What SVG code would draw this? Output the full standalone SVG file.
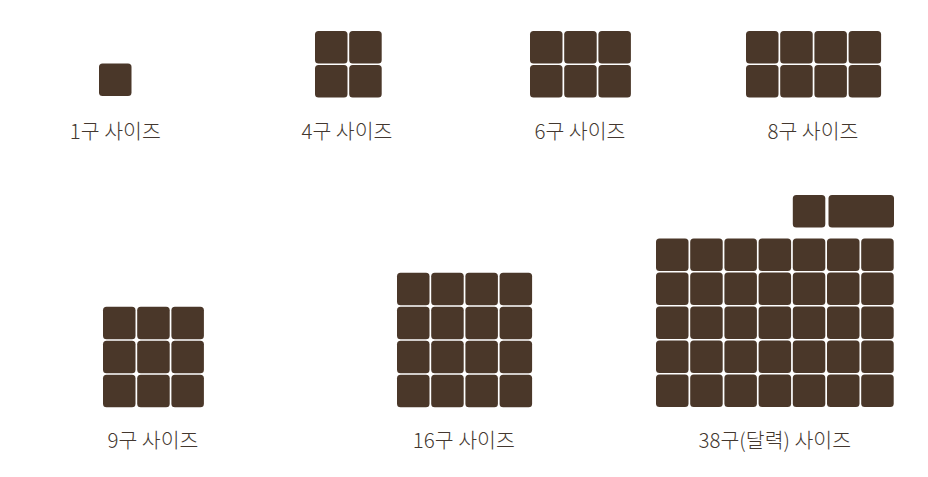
<svg xmlns="http://www.w3.org/2000/svg" width="928" height="477" viewBox="0 0 928 477">
<style>
.c{fill:#4a3729}
.t{font-family:"Noto Sans CJK KR","Noto Sans",sans-serif;font-size:20.5px;font-weight:300;fill:#43372f;text-anchor:middle}
</style>
<defs>
<rect id="cell" width="32.5" height="32.5" rx="3.5" ry="3.5"/>
</defs>
<rect width="928" height="477" fill="#ffffff"/>
<g id="size1">
<use href="#cell" class="c" x="99" y="63.5"/>
<text class="t" x="115.3" y="139">1구 사이즈</text>
</g>
<g id="size4">
<use href="#cell" class="c" x="315" y="31"/><use href="#cell" class="c" x="349.2" y="31"/>
<use href="#cell" class="c" x="315" y="65"/><use href="#cell" class="c" x="349.2" y="65"/>
<text class="t" x="347" y="139">4구 사이즈</text>
</g>
<g id="size6">
<use href="#cell" class="c" x="530" y="31"/><use href="#cell" class="c" x="564.2" y="31"/><use href="#cell" class="c" x="598.4" y="31"/>
<use href="#cell" class="c" x="530" y="65"/><use href="#cell" class="c" x="564.2" y="65"/><use href="#cell" class="c" x="598.4" y="65"/>
<text class="t" x="580" y="139">6구 사이즈</text>
</g>
<g id="size8">
<use href="#cell" class="c" x="746" y="31"/><use href="#cell" class="c" x="780.2" y="31"/><use href="#cell" class="c" x="814.4" y="31"/><use href="#cell" class="c" x="848.6" y="31"/>
<use href="#cell" class="c" x="746" y="65"/><use href="#cell" class="c" x="780.2" y="65"/><use href="#cell" class="c" x="814.4" y="65"/><use href="#cell" class="c" x="848.6" y="65"/>
<text class="t" x="813" y="139">8구 사이즈</text>
</g>
<g id="size9">
<use href="#cell" class="c" x="103" y="306.7"/><use href="#cell" class="c" x="137.2" y="306.7"/><use href="#cell" class="c" x="171.4" y="306.7"/>
<use href="#cell" class="c" x="103" y="340.7"/><use href="#cell" class="c" x="137.2" y="340.7"/><use href="#cell" class="c" x="171.4" y="340.7"/>
<use href="#cell" class="c" x="103" y="374.7"/><use href="#cell" class="c" x="137.2" y="374.7"/><use href="#cell" class="c" x="171.4" y="374.7"/>
<text class="t" x="153" y="447.5">9구 사이즈</text>
</g>
<g id="size16">
<use href="#cell" class="c" x="397" y="272.7"/><use href="#cell" class="c" x="431.2" y="272.7"/><use href="#cell" class="c" x="465.4" y="272.7"/><use href="#cell" class="c" x="499.6" y="272.7"/>
<use href="#cell" class="c" x="397" y="306.7"/><use href="#cell" class="c" x="431.2" y="306.7"/><use href="#cell" class="c" x="465.4" y="306.7"/><use href="#cell" class="c" x="499.6" y="306.7"/>
<use href="#cell" class="c" x="397" y="340.7"/><use href="#cell" class="c" x="431.2" y="340.7"/><use href="#cell" class="c" x="465.4" y="340.7"/><use href="#cell" class="c" x="499.6" y="340.7"/>
<use href="#cell" class="c" x="397" y="374.7"/><use href="#cell" class="c" x="431.2" y="374.7"/><use href="#cell" class="c" x="465.4" y="374.7"/><use href="#cell" class="c" x="499.6" y="374.7"/>
<text class="t" x="463.8" y="447.5">16구 사이즈</text>
</g>
<g id="size38">
<use href="#cell" class="c" x="792.8" y="195"/>
<rect class="c" x="828.5" y="195" width="65.5" height="32.5" rx="3.5" ry="3.5"/>
<use href="#cell" class="c" x="656" y="238.5"/><use href="#cell" class="c" x="690.2" y="238.5"/><use href="#cell" class="c" x="724.4" y="238.5"/><use href="#cell" class="c" x="758.6" y="238.5"/><use href="#cell" class="c" x="792.8" y="238.5"/><use href="#cell" class="c" x="827" y="238.5"/><use href="#cell" class="c" x="861.2" y="238.5"/>
<use href="#cell" class="c" x="656" y="272.5"/><use href="#cell" class="c" x="690.2" y="272.5"/><use href="#cell" class="c" x="724.4" y="272.5"/><use href="#cell" class="c" x="758.6" y="272.5"/><use href="#cell" class="c" x="792.8" y="272.5"/><use href="#cell" class="c" x="827" y="272.5"/><use href="#cell" class="c" x="861.2" y="272.5"/>
<use href="#cell" class="c" x="656" y="306.5"/><use href="#cell" class="c" x="690.2" y="306.5"/><use href="#cell" class="c" x="724.4" y="306.5"/><use href="#cell" class="c" x="758.6" y="306.5"/><use href="#cell" class="c" x="792.8" y="306.5"/><use href="#cell" class="c" x="827" y="306.5"/><use href="#cell" class="c" x="861.2" y="306.5"/>
<use href="#cell" class="c" x="656" y="340.5"/><use href="#cell" class="c" x="690.2" y="340.5"/><use href="#cell" class="c" x="724.4" y="340.5"/><use href="#cell" class="c" x="758.6" y="340.5"/><use href="#cell" class="c" x="792.8" y="340.5"/><use href="#cell" class="c" x="827" y="340.5"/><use href="#cell" class="c" x="861.2" y="340.5"/>
<use href="#cell" class="c" x="656" y="374.5"/><use href="#cell" class="c" x="690.2" y="374.5"/><use href="#cell" class="c" x="724.4" y="374.5"/><use href="#cell" class="c" x="758.6" y="374.5"/><use href="#cell" class="c" x="792.8" y="374.5"/><use href="#cell" class="c" x="827" y="374.5"/><use href="#cell" class="c" x="861.2" y="374.5"/>
<text class="t" x="774.8" y="447.5">38구(달력) 사이즈</text>
</g>
<g id="connectors"/>
</svg>
